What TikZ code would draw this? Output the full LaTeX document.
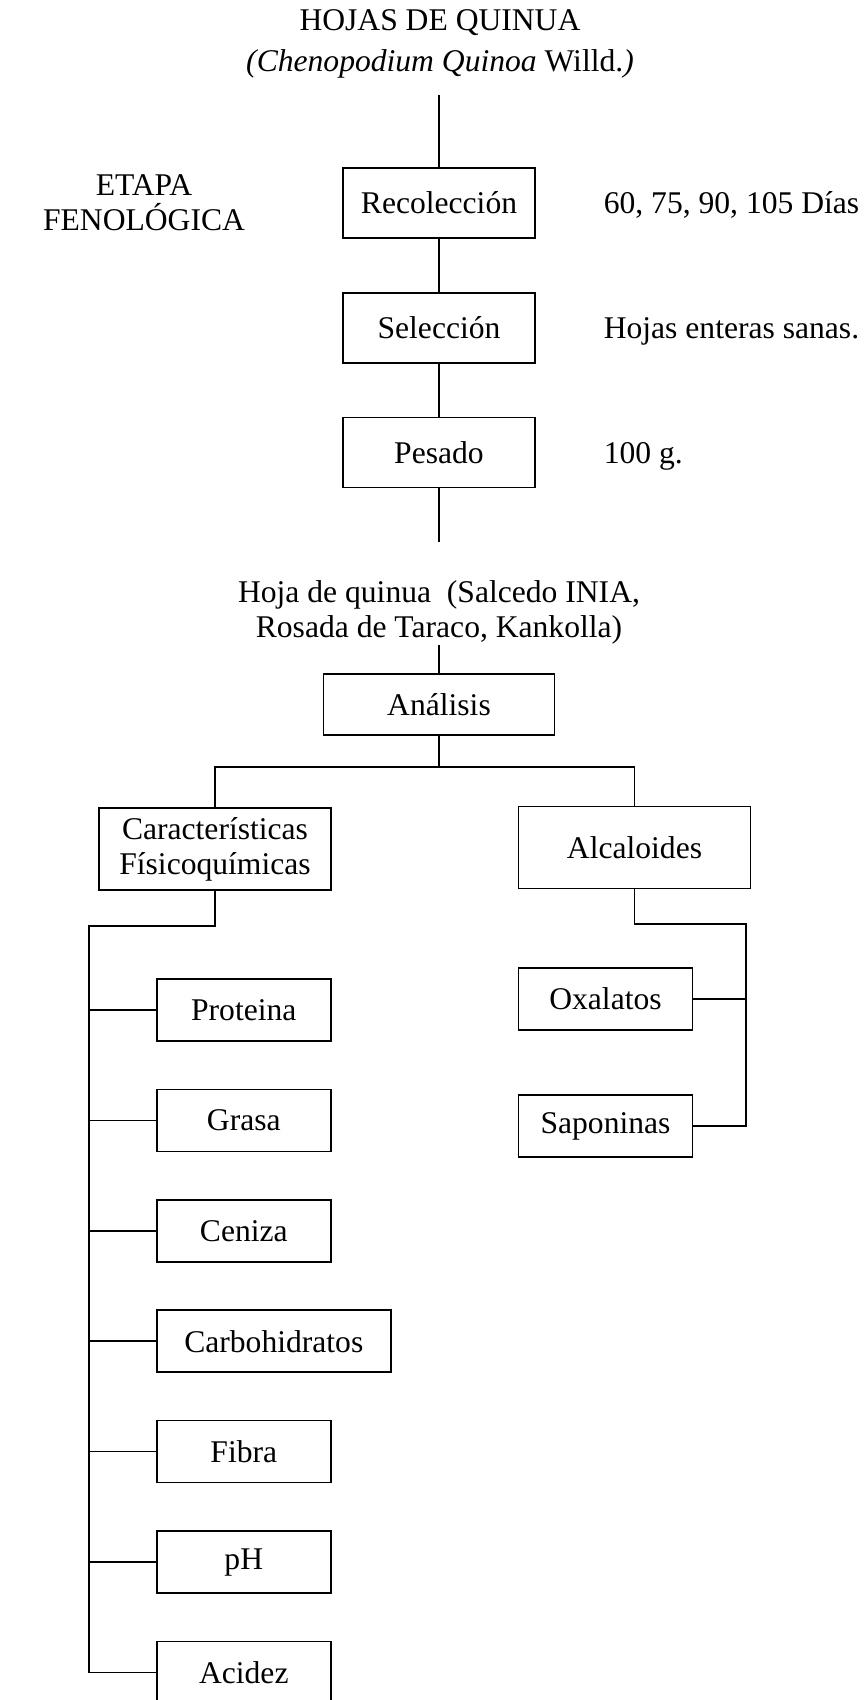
\documentclass[tikz,border=0pt]{standalone}
\usepackage{fontspec}
\setmainfont{Liberation Serif}
\usetikzlibrary{positioning}

\begin{document}
\begin{tikzpicture}[x=0.5pt, y=-0.5pt, line width=0.8pt,
    every node/.style={font=\fontsize{15.8}{17.5}\selectfont},
    paso/.style={draw, minimum width=96pt, minimum height=35pt, inner sep=0pt},
    grupo/.style={draw, align=center, minimum width=116pt, minimum height=41pt, inner sep=0pt},
    ensayo/.style={draw, minimum width=87pt, minimum height=31pt, inner sep=0pt},
    nota/.style={anchor=base west, inner sep=0pt}]

  \useasboundingbox (0,0) rectangle (865,1700);

  % titulo
  \node[align=center, inner sep=0pt, anchor=north] (titulo) at (440,9)
    {HOJAS DE QUINUA\\[2.75pt]\textit{(Chenopodium Quinoa} Willd.\textit{)}};

  % etapa fenologica
  \node[align=center] (etapa) at (144,203) {ETAPA\\FENOLÓGICA};
  \node[paso] (reco) at (439,203) {Recolección};
  \node[paso] (sele) at (439,328) {Selección};
  \node[paso] (pesa) at (439,452.5) {Pesado};
  \node[nota] (dias) at (603,214) {60, 75, 90, 105 Días};
  \node[nota] (sanas) at (603,339) {Hojas enteras sanas.};
  \node[nota] (peso) at (603,463) {100 g.};
  \coordinate (entrada) at (439,95);
  \coordinate (salida) at (439,542);

  \draw (entrada) -- (reco);
  \draw (reco) -- (sele);
  \draw (sele) -- (pesa);
  \draw (pesa) -- (salida);

  % analisis
  \node[align=center, inner sep=0pt, anchor=south] (hoja) at (439,645)
    {Hoja de quinua~ (Salcedo INIA,\\Rosada de Taraco, Kankolla)};
  \node[draw, minimum width=115.5pt, minimum height=30.5pt, inner sep=0pt] (anal) at (439,704.5) {Análisis};
  \node[grupo] (cara) at (215,849) {Características\\Físicoquímicas};
  \node[grupo] (alca) at (634.5,847.5) {Alcaloides};
  \coordinate (rama) at (439,767);

  \draw (hoja) -- (anal);
  \draw (anal) -- (rama);
  \draw (cara.north) |- (rama) -| (alca.north);

  % alcaloides
  \node[ensayo] (oxal) at (605.5,999) {Oxalatos};
  \node[ensayo] (sapo) at (605.5,1126) {Saponinas};
  \coordinate (rielA) at (746,924);

  \draw (alca.south) |- (rielA) |- (sapo.east);
  \draw (oxal.east) -- (oxal.east -| rielA);

  % fisicoquimicas
  \node[ensayo, anchor=west] (prot) at (156,1010) {Proteina};
  \node[ensayo, below=23.4pt of prot.south west, anchor=north west] (gras) {Grasa};
  \node[ensayo, below=23.4pt of gras.south west, anchor=north west] (ceni) {Ceniza};
  \node[ensayo, minimum width=117pt, below=23.4pt of ceni.south west, anchor=north west] (carb) {Carbohidratos};
  \node[ensayo, below=23.4pt of carb.south west, anchor=north west] (fibr) {Fibra};
  \node[ensayo, below=23.4pt of fibr.south west, anchor=north west] (phph) {pH};
  \node[ensayo, below=23.4pt of phph.south west, anchor=north west] (acid) {Acidez};
  \coordinate (rielC) at (89,926);

  \draw (cara.south) |- (rielC) |- (acid.west);
  \draw (prot.west) -- (prot.west -| rielC);
  \draw (gras.west) -- (gras.west -| rielC);
  \draw (ceni.west) -- (ceni.west -| rielC);
  \draw (carb.west) -- (carb.west -| rielC);
  \draw (fibr.west) -- (fibr.west -| rielC);
  \draw (phph.west) -- (phph.west -| rielC);
\end{tikzpicture}
\end{document}
